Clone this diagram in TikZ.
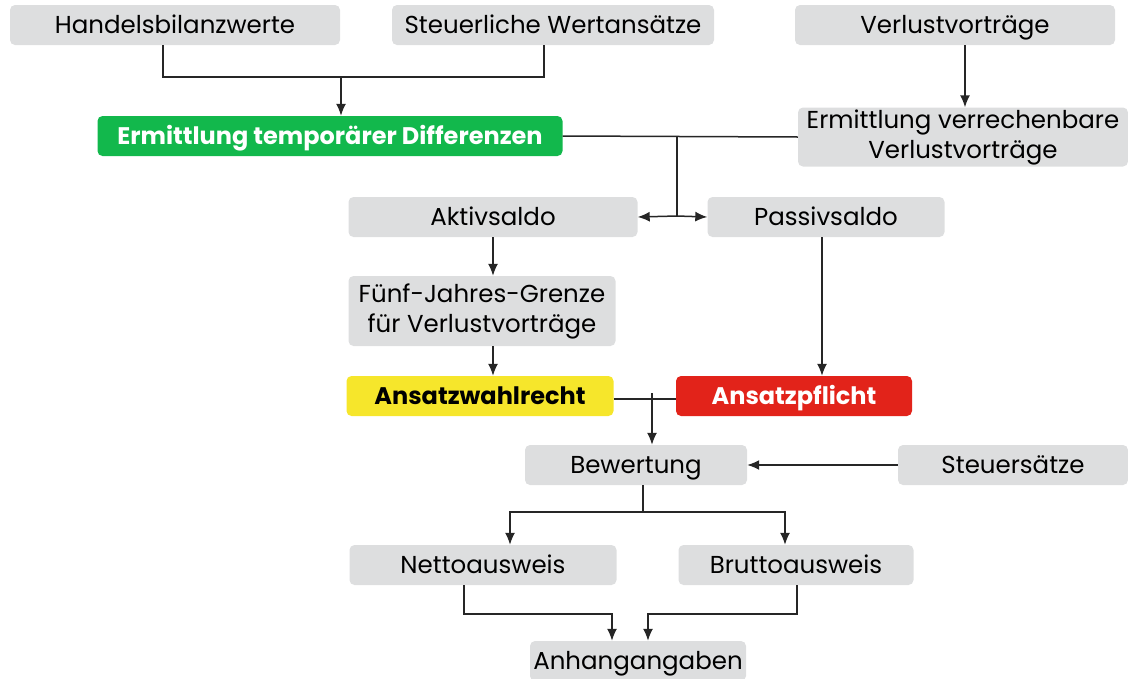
\documentclass[tikz,border=0pt]{standalone}
\usepackage{fontspec}
\setmainfont{Poppins}
\usetikzlibrary{arrows.meta}
\definecolor{boxgray}{HTML}{DDDEDF}
\definecolor{diffgreen}{HTML}{12B84C}
\definecolor{wahlyellow}{HTML}{F6E62B}
\definecolor{pflichtred}{HTML}{E2231A}
\begin{document}
\begin{tikzpicture}[x=1pt, y=-1pt,
		box/.style = {shape=rectangle, fill=boxgray, rounded corners=5pt,
			inner sep=0pt, align=center, minimum height=40pt,
			text height=20pt, text depth=4pt,
			font=\fontsize{24.5}{30}\selectfont},
		twoline/.style = {text height=, text depth=},
		hot/.style = {box, font=\fontsize{24}{30}\selectfont\bfseries},
		conn/.style = {draw=black!85, line width=1.5pt},
		arr/.style = {conn, -{Latex[length=12pt,width=10pt]}}]
		\useasboundingbox (0,0) rectangle (1128,678);
		% top row
		\node[box, minimum width=330pt] (hbw) at (175,25) {Handelsbilanzwerte};
		\node[box, minimum width=322pt] (swa) at (553,25) {Steuerliche Wertansätze};
		\node[box, minimum width=320pt] (vv) at (955,25) {Verlustvorträge};
		% differences
		\node[hot, fill=diffgreen, text=white, minimum width=465pt] (etd) at (330,136) {Ermittlung temporärer Differenzen};
		\node[box, twoline, minimum width=330pt, minimum height=59pt] (evv) at (963,137) {Ermittlung verrechenbare\\Verlustvorträge};
		\node[box, minimum width=289pt] (akt) at (493,217) {Aktivsaldo};
		\node[box, minimum width=237pt] (pas) at (826,217) {Passivsaldo};
		\node[box, twoline, minimum width=267pt, minimum height=70pt] (fjg) at (482,311) {Fünf-Jahres-Grenze\\für Verlustvorträge};
		\node[hot, fill=wahlyellow, text=black, minimum width=267pt] (awr) at (480,396) {Ansatzwahlrecht};
		\node[hot, fill=pflichtred, text=white, minimum width=236pt] (apf) at (794,396) {Ansatzpflicht};
		% valuation
		\node[box, minimum width=222pt] (bew) at (636,465) {Bewertung};
		\node[box, minimum width=230pt] (sts) at (1013,465) {Steuersätze};
		\node[box, minimum width=267pt] (net) at (483,565) {Nettoausweis};
		\node[box, minimum width=235pt] (bru) at (796,565) {Bruttoausweis};
		\node[box, minimum width=216pt] (anh) at (638,661) {Anhangangaben};
		% connectors
		\draw[conn] ([xshift=-12pt]hbw.south) |- (341,77) -| ([xshift=-9pt]swa.south);
		\draw[arr] (341,77) -- (etd.north -| 341,0);
		\draw[arr] (vv.south -| 965,0) -- (evv.north -| 965,0);
		\draw[conn] (etd.east) -- (evv.west);
		\draw[conn] (677,136) -- (677,216);
		\draw[arr] (677,216) -- (akt.east);
		\draw[arr] (677,216) -- (pas.west);
		\draw[arr] (akt.south) -- (fjg.north -| akt.south);
		\draw[arr] (fjg.south -| akt.south) -- (awr.north -| akt.south);
		\draw[arr] ([xshift=-4pt]pas.south) -- (apf.north -| 822,0);
		\draw[conn] ([yshift=-3pt]awr.east) -- ([yshift=-3pt]apf.west);
		\draw[arr] (652,393) -- (bew.north -| 652,0);
		\draw[arr] (sts.west) -- (bew.east);
		\draw[conn] ([xshift=7pt]bew.south) -- (643,512);
		\draw[arr] (643,512) -| ([xshift=27pt]net.north);
		\draw[arr] (643,512) -| ([xshift=-11pt]bru.north);
		\draw[arr] ([xshift=-19pt]net.south) |- (612,614) -- (anh.north -| 612,0);
		\draw[arr] ([xshift=1pt]bru.south) |- (648,614) -- (anh.north -| 648,0);
\end{tikzpicture}
\end{document}
